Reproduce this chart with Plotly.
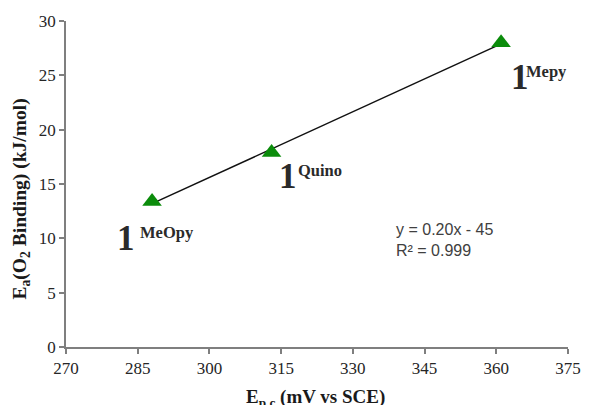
import numpy as np
import plotly.graph_objects as go

# Data
potential = [288, 313, 361]          # E_p,c (mV vs SCE)
energy = [13.4, 17.9, 28.0]          # Ea(O2 binding) (kJ/mol)
labels = ["MeOpy", "Quino", "Mepy"]
x_ticks = [270, 285, 300, 315, 330, 345, 360, 375]
y_ticks = [0, 5, 10, 15, 20, 25, 30]

slope, intercept = np.polyfit(potential, energy, 1)
fit_x = np.array([min(potential), max(potential)])
fit_y = slope * fit_x + intercept

fig = go.Figure()
fig.add_trace(go.Scatter(x=fit_x, y=fit_y, mode="lines",
                         line=dict(color="#111111", width=1.5), hoverinfo="skip"))
fig.add_trace(go.Scatter(x=potential, y=energy, mode="markers",
                         marker=dict(symbol="triangle-up", size=17, color="#0b8c0b",
                                     line=dict(width=0))))

# label positions (in data units)
num_pos = [(282.5, 9.95), (316.4, 15.7), (364.9, 24.8)]
sup_pos = [(285.1, 10.5), (318.1, 16.2), (365.85, 25.35)]
for (nx, ny), (sx, sy), lab in zip(num_pos, sup_pos, labels):
    fig.add_annotation(x=nx, y=ny, xref="x", yref="y", text="<b>1</b>", showarrow=False,
                       font=dict(family="Liberation Serif", size=35, color="#2a2a2a"),
                       xanchor="center", yanchor="middle")
    fig.add_annotation(x=sx, y=sy, xref="x", yref="y", text="<b>" + lab + "</b>",
                       showarrow=False,
                       font=dict(family="Liberation Serif", size=16.5, color="#2a2a2a"),
                       xanchor="left", yanchor="middle")

fig.add_annotation(x=338.6, y=9.87, xref="x", yref="y", align="left",
                   text="y = 0.20x - 45<br>R² = 0.999", showarrow=False,
                   font=dict(family="Liberation Sans", size=16, color="#404040"),
                   xanchor="left", yanchor="middle")

fig.add_annotation(x=-0.09, y=0.455, xref="paper", yref="paper", textangle=-90,
                   text="<b>E<sub>a</sub>(O<sub>2</sub> Binding) (kJ/mol)</b>", showarrow=False,
                   font=dict(family="Liberation Serif", size=19.5, color="#1a1a1a"),
                   xanchor="center", yanchor="middle")
fig.add_annotation(x=0.498, y=-0.157, xref="paper", yref="paper",
                   text="<b>E<sub>p,c</sub> (mV vs SCE)</b>", showarrow=False,
                   font=dict(family="Liberation Serif", size=19, color="#1a1a1a"),
                   xanchor="center", yanchor="middle")

axis_common = dict(showgrid=False, zeroline=False, showline=True, linecolor="#7f7f7f",
                   linewidth=1.5, ticks="outside", ticklen=5, tickcolor="#7f7f7f",
                   tickwidth=1.5,
                   tickfont=dict(family="Liberation Serif", size=17, color="#262626"))
fig.update_xaxes(range=[270, 375], tickvals=x_ticks, **axis_common)
fig.update_yaxes(range=[0, 30], tickvals=y_ticks, **axis_common)

fig.update_layout(width=593, height=405, showlegend=False,
                  margin=dict(l=66, r=16, t=19, b=58),
                  plot_bgcolor="white", paper_bgcolor="white")
fig.write_html("out.html")
